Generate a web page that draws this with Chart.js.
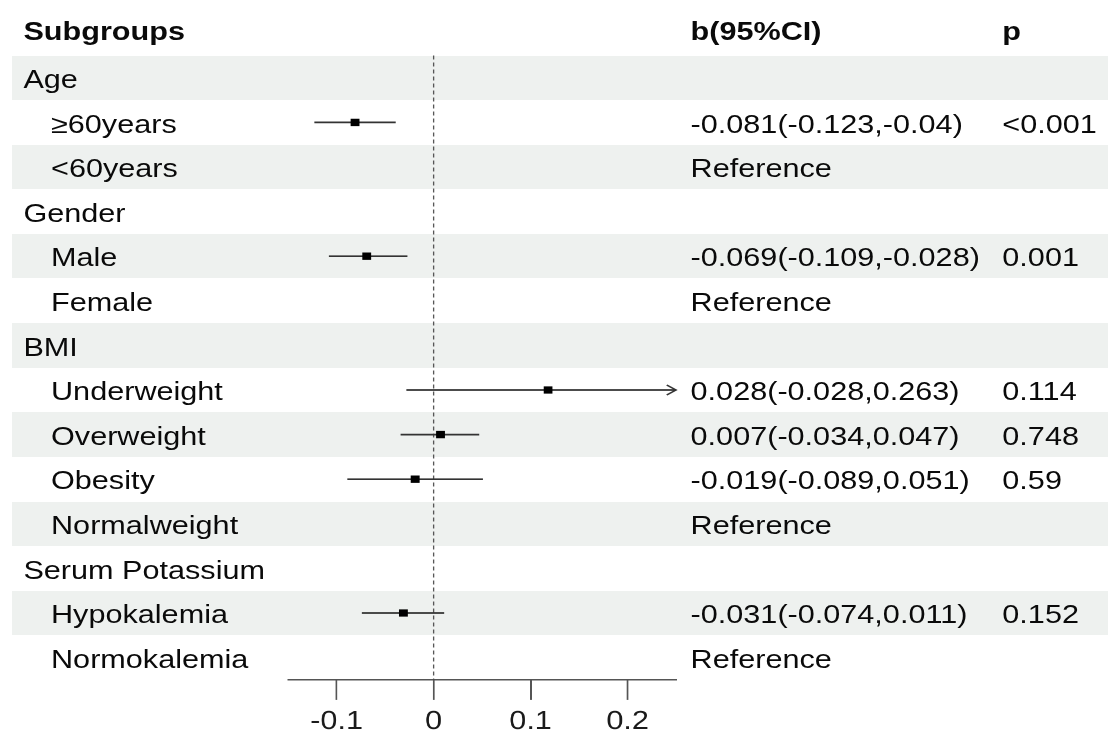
<!DOCTYPE html>
<html>
<head>
<meta charset="utf-8">
<script src="https://cdn.jsdelivr.net/npm/chart.js@4.4.1/dist/chart.umd.min.js"></script>
<style>
  html, body { margin: 0; padding: 0; background: #fff; }
  body { width: 1108px; height: 733px; overflow: hidden; position: relative; }
  /* the reference is stretched horizontally, so lay out narrow and stretch */
  #sheet {
    position: absolute; left: 0; top: 0; width: 923px; height: 733px;
    transform: scaleX(1.2004); transform-origin: 0 0;
    font-family: "Liberation Sans", Arial, sans-serif; font-size: 25.5px; color: #0a0a0a;
  }
  .band { position: absolute; left: 10px; right: 0; background: #eef1ef; }
  .cell { position: absolute; white-space: nowrap; }
  .head { font-weight: bold; }
  #plot { position: absolute; left: 0; top: 0; }
</style>
</head>
<body>
<div id="sheet">
  <div id="bands"></div>
  <div id="cells"></div>
  <canvas id="plot" width="923" height="733"></canvas>
</div>
<script>
const subgroupLabels = [
  "Age", "≥60years", "<60years",
  "Gender", "Male", "Female",
  "BMI", "Underweight", "Overweight", "Obesity", "Normalweight",
  "Serum Potassium", "Hypokalemia", "Normokalemia",
];
const groupRows = [0, 3, 6, 11];

const pointEst = [null, -0.081, null, null, -0.069, null, null, 0.118, 0.007, -0.019, null, null, -0.031, null];
const ciLow = [null, -0.123, null, null, -0.108, null, null, -0.028, -0.034, -0.089, null, null, -0.074, null];
const ciHigh = [null, -0.039, null, null, -0.027, null, null, 0.263, 0.047, 0.051, null, null, 0.011, null];

const effectText = [
  "", "-0.081(-0.123,-0.04)", "Reference",
  "", "-0.069(-0.109,-0.028)", "Reference",
  "", "0.028(-0.028,0.263)", "0.007(-0.034,0.047)", "-0.019(-0.089,0.051)", "Reference",
  "", "-0.031(-0.074,0.011)", "Reference",
];
const pText = ["", "<0.001", "", "", "0.001", "", "", "0.114", "0.748", "0.59", "", "", "0.152", ""];

const headers = ["Subgroups", "b(95%CI)", "p"];
const xTickValues = [-0.1, 0, 0.1, 0.2];
const xTickLabels = ["-0.1", "0", "0.1", "0.2"];
const X_MIN = -0.15;
const X_MAX = 0.25;

// layout (unstretched px)
const ROW_TOP = 55.5;
const ROW_H = 44.6;
const TEXT_SHIFT = 1.4;
const COL_GROUP = 19.5;
const COL_SUB = 42.5;
const COL_EFFECT = 575.3;
const COL_P = 835;
const PLOT_LEFT = 240;
const PLOT_RIGHT = 563.2;
const SHEET_W = 923;
const SHEET_H = 733;
const CI_COLOR = "#333";

function addCell(parent, text, left, top, cls) {
  const el = document.createElement("div");
  el.className = "cell" + (cls ? " " + cls : "");
  el.textContent = text;
  el.style.left = left + "px";
  el.style.top = top + "px";
  el.style.lineHeight = ROW_H + "px";
  parent.appendChild(el);
}

function buildTable() {
  const bands = document.getElementById("bands");
  const cells = document.getElementById("cells");

  subgroupLabels.forEach((label, i) => {
    const top = ROW_TOP + i * ROW_H;
    if (i % 2 === 0) {
      const band = document.createElement("div");
      band.className = "band";
      band.style.top = top + "px";
      band.style.height = ROW_H + "px";
      bands.appendChild(band);
    }
    const indent = groupRows.includes(i) ? COL_GROUP : COL_SUB;
    addCell(cells, label, indent, top + TEXT_SHIFT);
    if (effectText[i]) addCell(cells, effectText[i], COL_EFFECT, top + TEXT_SHIFT);
    if (pText[i]) addCell(cells, pText[i], COL_P, top + TEXT_SHIFT);
  });

  const headTop = 40 - 31.1;
  addCell(cells, headers[0], COL_GROUP, headTop, "head");
  addCell(cells, headers[1], COL_EFFECT, headTop, "head");
  addCell(cells, headers[2], COL_P, headTop, "head");
}

const clipArrows = {
  id: "clipArrows",
  afterDatasetsDraw(chart) {
    const { ctx, scales } = chart;
    ctx.save();
    ctx.strokeStyle = CI_COLOR;
    ctx.lineWidth = 1.4;
    ciHigh.forEach((hi, i) => {
      if (hi == null) return;
      const py = scales.y.getPixelForValue(i);
      if (hi > X_MAX) {
        const px = scales.x.getPixelForValue(X_MAX);
        ctx.beginPath();
        ctx.moveTo(px - 7.8, py - 5);
        ctx.lineTo(px, py);
        ctx.lineTo(px - 7.8, py + 5);
        ctx.stroke();
      }
      if (ciLow[i] < X_MIN) {
        const px = scales.x.getPixelForValue(X_MIN);
        ctx.beginPath();
        ctx.moveTo(px + 7.8, py - 5);
        ctx.lineTo(px, py);
        ctx.lineTo(px + 7.8, py + 5);
        ctx.stroke();
      }
    });
    ctx.restore();
  },
};

function buildDatasets() {
  const rows = subgroupLabels.length;
  const sets = [];

  sets.push({
    data: pointEst
      .map((v, i) => (v == null ? null : { x: v, y: i }))
      .filter(Boolean),
    pointStyle: "rect",
    pointRadius: 5.2,
    pointBorderWidth: 0,
    backgroundColor: "#000",
    order: 0,
  });

  ciLow.forEach((lo, i) => {
    if (lo == null) return;
    sets.push({
      data: [
        { x: Math.max(lo, X_MIN), y: i },
        { x: Math.min(ciHigh[i], X_MAX), y: i },
      ],
      showLine: true,
      borderColor: CI_COLOR,
      borderWidth: 1.7,
      pointRadius: 0,
      order: 1,
    });
  });

  sets.push({
    data: [
      { x: 0, y: -0.5 },
      { x: 0, y: rows - 0.5 },
    ],
    showLine: true,
    borderColor: "#444",
    borderWidth: 1,
    borderDash: [4, 3],
    pointRadius: 0,
    order: 2,
  });

  return sets;
}

function renderForest() {
  const rows = subgroupLabels.length;
  const plotBottom = ROW_TOP + rows * ROW_H;
  Chart.defaults.font.family = '"Liberation Sans", Arial, sans-serif';

  new Chart(document.getElementById("plot"), {
    type: "scatter",
    data: { datasets: buildDatasets() },
    options: {
      responsive: false,
      devicePixelRatio: 2,
      animation: false,
      events: [],
      layout: {
        padding: {
          left: PLOT_LEFT,
          right: SHEET_W - PLOT_RIGHT,
          top: ROW_TOP,
          bottom: 0,
        },
      },
      plugins: {
        legend: { display: false },
        tooltip: { enabled: false },
      },
      scales: {
        x: {
          type: "linear",
          min: X_MIN,
          max: X_MAX,
          afterBuildTicks(scale) {
            scale.ticks = xTickValues.map((value) => ({ value }));
          },
          afterFit(scale) {
            scale.height = SHEET_H - plotBottom;
          },
          ticks: {
            color: "#1a1a1a",
            font: { size: 25.5 },
            padding: 7,
            maxRotation: 0,
            callback(value) {
              const idx = xTickValues.findIndex((t) => Math.abs(t - value) < 1e-9);
              return idx >= 0 ? xTickLabels[idx] : "";
            },
          },
          grid: {
            drawOnChartArea: false,
            drawTicks: true,
            tickLength: 20,
            color: "#555",
            lineWidth: 1.5,
          },
          border: { display: true, color: "#555", width: 1.5 },
        },
        y: {
          type: "linear",
          display: false,
          reverse: true,
          min: -0.5,
          max: rows - 0.5,
        },
      },
    },
    plugins: [clipArrows],
  });
}

buildTable();
renderForest();
</script>
</body>
</html>
